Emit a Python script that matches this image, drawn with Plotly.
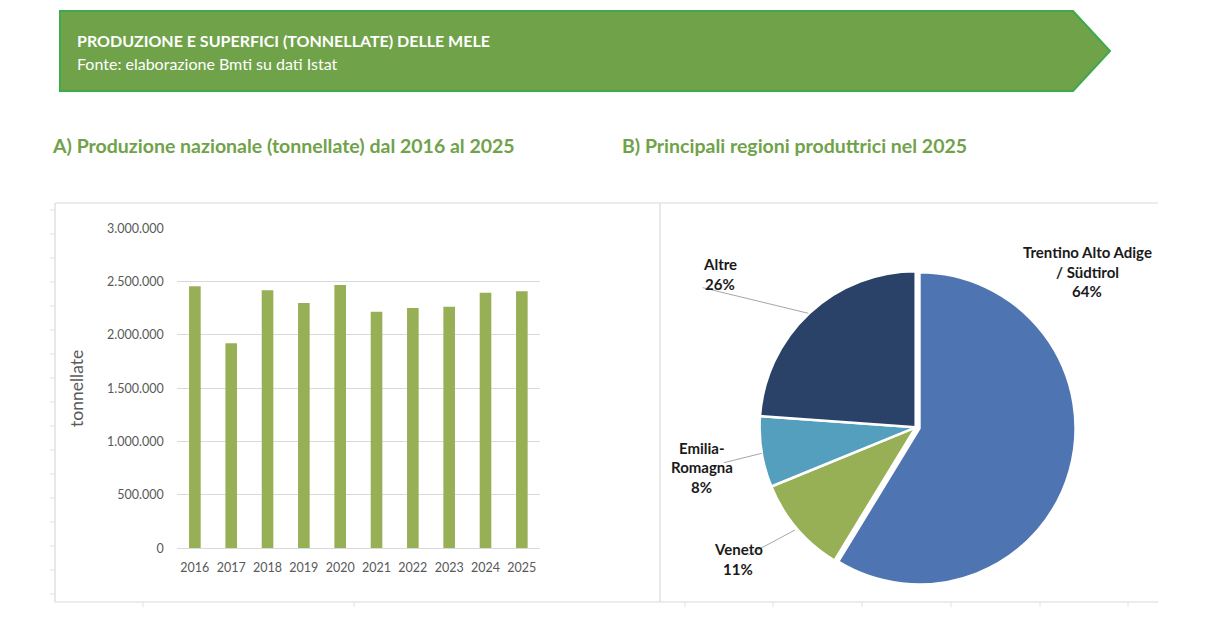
import plotly.graph_objects as go

# ---------------- data ----------------
years = ["2016", "2017", "2018", "2019", "2020", "2021", "2022", "2023", "2024", "2025"]
production = [2456000, 1922000, 2419000, 2300000, 2468000, 2218000, 2253000, 2265000, 2396000, 2409000]
y_ticks = [0, 500000, 1000000, 1500000, 2000000, 2500000, 3000000]

regions = ["Trentino Alto Adige / Südtirol", "Veneto", "Emilia-Romagna", "Altre"]
region_share = [64, 11, 8, 26]
region_colors = ["#4E75B2", "#97B056", "#559FBE", "#2B4268"]

W, H = 1206, 617
FONT = "Lato"


def px(x):
    return x / W


def py(y):
    return 1 - y / H


fig = go.Figure()

fig.add_trace(go.Bar(
    x=years, y=production, marker=dict(color="#97B056", line=dict(width=0)),
    xaxis="x", yaxis="y", showlegend=False, hoverinfo="x+y",
))

fig.add_trace(go.Pie(
    labels=regions, values=region_share, sort=False, direction="clockwise",
    rotation=0, textinfo="none", showlegend=False,
    marker=dict(colors=region_colors, line=dict(color="white", width=2.5)),
    pull=[0.025, 0, 0, 0],
    domain=dict(x=[px(755.7), px(1075.7)], y=[py(587.3), py(267.3)]),
))

shapes = []
# header arrow
shapes.append(dict(
    type="path", xref="paper", yref="paper",
    path=f"M {px(60)},{py(11)} L {px(1073)},{py(11)} L {px(1110)},{py(51)} L {px(1073)},{py(91)} L {px(60)},{py(91)} Z",
    fillcolor="#70A24A", line=dict(color="#3DAA4D", width=2),
))
# panel borders
grey = "#D9D9D9"
for x0, y0, x1, y1 in [
    (55, 203, 660, 203), (55, 203, 55, 602), (55, 602, 660, 602),
    (660, 203, 660, 602), (660, 203, 1158, 203), (660, 602, 1158, 602),
]:
    shapes.append(dict(type="line", xref="paper", yref="paper",
                       x0=px(x0), y0=py(y0), x1=px(x1), y1=py(y1),
                       line=dict(color=grey, width=1.2)))
# small sheet marks
for yy in range(210, 600, 24):
    shapes.append(dict(type="line", xref="paper", yref="paper",
                       x0=px(50), y0=py(yy), x1=px(55), y1=py(yy),
                       line=dict(color="#E2E2E2", width=1)))
for xx in [143, 354, 685, 773, 862, 951, 1040, 1128]:
    shapes.append(dict(type="line", xref="paper", yref="paper",
                       x0=px(xx), y0=py(602), x1=px(xx), y1=py(607),
                       line=dict(color="#E2E2E2", width=1)))
# pie leader lines
for x0, y0, x1, y1 in [
    (702.7, 287.7, 808.3, 313.3),
    (724, 462.7, 761.7, 453.3),
    (748.3, 555, 795, 530),
]:
    shapes.append(dict(type="line", xref="paper", yref="paper",
                       x0=px(x0), y0=py(y0), x1=px(x1), y1=py(y1),
                       line=dict(color="#A6A6A6", width=1)))

annotations = []


def txt(x, y, s, size=13, color="#1A1A1A", bold=True, xanchor="center"):
    annotations.append(dict(
        xref="paper", yref="paper", x=px(x), y=py(y), text=(f"<b>{s}</b>" if bold else s),
        showarrow=False, xanchor=xanchor, yanchor="middle",
        font=dict(family=FONT, size=size, color=color),
    ))


txt(75, 41, "PRODUZIONE E SUPERFICI (TONNELLATE) DELLE MELE", size=16, color="white", xanchor="left")
txt(75, 63, "Fonte: elaborazione Bmti su dati Istat", size=16, color="white", bold=False, xanchor="left")
txt(50, 145, "A) Produzione nazionale (tonnellate) dal 2016 al 2025", size=19.5, color="#70A24A", xanchor="left")
txt(620, 145, "B) Principali regioni produttrici nel 2025", size=19.5, color="#70A24A", xanchor="left")

# pie labels
pie_label_lines = [
    (1087, ["Trentino Alto Adige", "/ Südtirol", f"{region_share[0]}%"], 252.3),
    (738.3, [regions[1], f"{region_share[1]}%"], 549),
    (701.7, ["Emilia-", "Romagna", f"{region_share[2]}%"], 447.7),
    (720, [regions[3], f"{region_share[3]}%"], 264),
]
for x, lines, y0 in pie_label_lines:
    for i, s in enumerate(lines):
        txt(x, y0 + i * 19.5, s, size=15)

fig.update_layout(
    width=W, height=H, margin=dict(l=0, r=0, t=0, b=0, pad=0, autoexpand=False),
    paper_bgcolor="white", plot_bgcolor="white",
    separators=",.",
    font=dict(family=FONT, color="#595959"),
    bargap=0.68,
    xaxis=dict(domain=[px(176.7), px(540)], anchor="y", showgrid=False, automargin=False,
               showline=True, linecolor="#D9D9D9", linewidth=1.2,
               ticks="", ticklabelstandoff=8,
               tickfont=dict(size=12.5, color="#595959", family=FONT)),
    yaxis=dict(domain=[py(548.3), py(228.3)], anchor="x", range=[0, 3000000], automargin=False,
               tickvals=y_ticks,
               tickformat=",d", showgrid=True, gridcolor="#D9D9D9", gridwidth=1.2,
               zeroline=False, showline=False, ticks="", ticklabelstandoff=12,
               tickfont=dict(size=12.5, color="#595959", family=FONT),
               title=dict(text="tonnellate", standoff=18,
                          font=dict(size=17.5, color="#595959", family=FONT))),
    shapes=shapes, annotations=annotations,
)

fig.write_html("out.html")
